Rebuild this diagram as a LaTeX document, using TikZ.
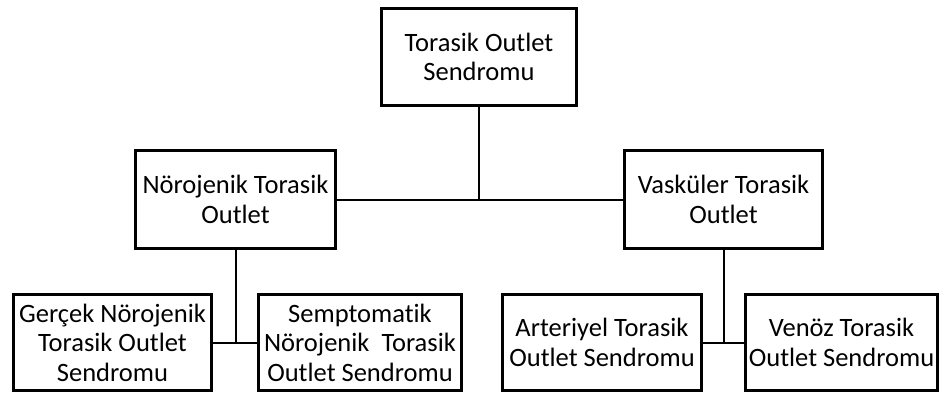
\documentclass[tikz,border=0pt]{standalone}
\usepackage{fontspec}
\setmainfont{Carlito}[Ligatures=NoCommon]
\usepackage{tikz}
\usetikzlibrary{positioning}

\begin{document}
\begin{tikzpicture}[x=1pt, y=-1pt,
    box/.style={draw, line width=3pt, align=center, inner sep=0pt, minimum height=96pt,
        font=\fontsize{26.5}{29.5}\selectfont},
    link/.style={line width=2pt}]
    \useasboundingbox (0,0) rectangle (940,394);

    % Top level
    \node[box, minimum width=195pt, minimum height=97pt] (tos) at (479,57) {Torasik Outlet\\Sendromu};

    % Second level
    \node[box, minimum width=200pt, minimum height=98pt] (nor) at (235.5,199.5) {Nörojenik Torasik\\Outlet};
    \node[box, minimum width=198pt, minimum height=98pt] (vas) at (723.5,199.5) {Vasküler Torasik\\Outlet};

    % Bottom level
    \node[box, minimum width=198pt] (ger) at (112.5,342.5) {Gerçek Nörojenik\\Torasik Outlet\\Sendromu};
    \node[box, minimum width=203pt] (sem) at (360,342.5) {Semptomatik\\Nörojenik\ \ Torasik\\Outlet Sendromu};
    \node[box, minimum width=199pt] (art) at (602,342.5) {Arteriyel Torasik\\Outlet Sendromu};
    \node[box, minimum width=192pt] (ven) at (841.5,342.5) {Venöz Torasik\\Outlet Sendromu};

    % Connectors
    \coordinate (j1) at (tos.south |- nor.east);
    \coordinate (j2) at (nor.south |- ger.east);
    \coordinate (j3) at (vas.south |- art.east);
    \draw[link] (tos.south) -- (j1);
    \draw[link] (nor.east) -- (vas.west);
    \draw[link] (nor.south) -- (j2);
    \draw[link] (ger.east) -- (sem.west);
    \draw[link] (vas.south) -- (j3);
    \draw[link] (art.east) -- (ven.west);
\end{tikzpicture}
\end{document}
